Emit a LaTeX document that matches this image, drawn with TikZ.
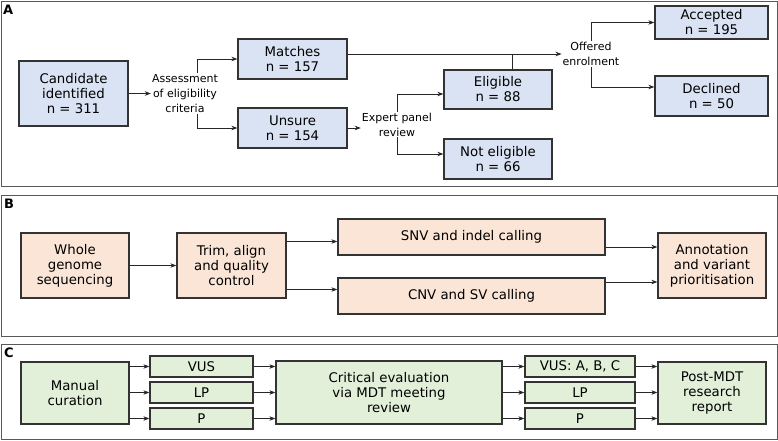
\documentclass[tikz,border=0pt]{standalone}
\usepackage{fontspec}
\setmainfont{DejaVu Sans}
\usetikzlibrary{arrows.meta}
\definecolor{fillA}{RGB}{218,227,243}
\definecolor{fillB}{RGB}{251,229,214}
\definecolor{fillC}{RGB}{226,240,217}

\begin{document}
\begin{tikzpicture}[x=1pt, y=-1pt,
	box/.style={rectangle, draw=black!80, line width=1.3pt, align=center, inner sep=0pt, font=\fontsize{13.3}{15}\selectfont},
	boxA/.style={box, fill=fillA},
	boxB/.style={box, fill=fillB},
	boxC/.style={box, fill=fillC},
	note/.style={rectangle, align=center, inner sep=1pt, font=\fontsize{11}{15}\selectfont},
	panel/.style={draw=black!65, line width=1pt},
	letter/.style={anchor=base west, inner sep=0pt, font=\fontsize{13}{13}\selectfont\bfseries},
	arr/.style={draw=black!85, line width=0.8pt, -{Stealth[length=6pt,width=4.5pt]}},
	link/.style={draw=black!85, line width=0.8pt}]
	\useasboundingbox (0,0) rectangle (778,440);
	% Panels
	\draw [panel] (1,1) rectangle (777,186.5);
	\draw [panel] (1,195) rectangle (777,336);
	\draw [panel] (1,344) rectangle (777,439);
	\node [letter] (labA) at (3,14) {A};
	\node [letter] (labB) at (4,208.5) {B};
	\node [letter] (labC) at (4,357.5) {C};

	% Place nodes (A)
	\node [boxA,minimum width=109pt,minimum height=65pt] (cand) at (73.5,93.5) {Candidate\\identified\\n = 311};
	\node [note] (assess) at (185,93.5) {Assessment\\of eligibility\\criteria};
	\node [boxA,minimum width=109pt,minimum height=40pt] (match) at (292.5,59) {Matches\\n = 157};
	\node [boxA,minimum width=109pt,minimum height=40pt] (unsure) at (292.5,128) {Unsure\\n = 154};
	\node [note] (expert) at (397,124.5) {Expert panel\\review};
	\node [boxA,minimum width=108pt,minimum height=39pt] (elig) at (498,89.5) {Eligible\\n = 88};
	\node [boxA,minimum width=108pt,minimum height=40pt] (notelig) at (498,159) {Not eligible\\n = 66};
	\node [note] (offered) at (591,54) {Offered\\enrolment};
	\node [boxA,minimum width=113pt,minimum height=33pt] (accept) at (711.5,22.5) {Accepted\\n = 195};
	\node [boxA,minimum width=113pt,minimum height=40pt] (decline) at (711.5,96) {Declined\\n = 50};

	\draw [arr] (cand.east) -- (assess.west);
	\draw [arr] ([xshift=12pt]assess.north) |- (match.west);
	\draw [arr] ([xshift=12pt]assess.south) |- (unsure.west);
	\draw [arr] (unsure.east) -- (unsure.east -| expert.west);
	\draw [arr] (expert.north) |- ([yshift=-4.5pt]elig.west);
	\draw [arr] (expert.south) |- ([yshift=5pt]notelig.west);
	\draw [arr] (match.east |- offered.west) -- (offered.west);
	\draw [link] ([xshift=14pt]elig.north) -- ([xshift=14pt]elig.north |- offered.west);
	\draw [arr] (offered.north) |- (accept.west);
	\draw [arr] (offered.south) |- ([yshift=9pt]decline.west);

	% Place nodes (B)
	\node [boxB,minimum width=108pt,minimum height=65pt] (wgs) at (75,265.5) {Whole\\genome\\sequencing};
	\node [boxB,minimum width=109pt,minimum height=65pt] (trim) at (231.5,265.5) {Trim, align\\and quality\\control};
	\node [boxB,minimum width=267pt,minimum height=36pt] (snv) at (471.5,237) {SNV and indel calling};
	\node [boxB,minimum width=267pt,minimum height=36pt] (cnv) at (471.5,296) {CNV and SV calling};
	\node [boxB,minimum width=108pt,minimum height=65pt] (annot) at (712,265.5) {Annotation\\and variant\\prioritisation};

	\draw [arr] (wgs.east) -- (trim.west);
	\draw [arr] ([yshift=24pt]trim.east) -- ([yshift=24pt]trim.east -| snv.west);
	\draw [arr] ([yshift=-24pt]trim.east) -- ([yshift=-24pt]trim.east -| cnv.west);
	\draw [arr] ([yshift=-10pt]snv.east) -- ([yshift=-10pt]snv.east -| annot.west);
	\draw [arr] ([yshift=14pt]cnv.east) -- ([yshift=14pt]cnv.east -| annot.west);

	% Place nodes (C)
	\node [boxC,minimum width=108pt,minimum height=62pt] (manual) at (75,393) {Manual\\curation};
	\node [boxC,minimum width=103pt,minimum height=21pt] (vus1) at (201.5,366.5) {VUS};
	\node [boxC,below of=vus1,node distance=26pt,minimum width=103pt,minimum height=21pt] (lp1) {LP};
	\node [boxC,below of=lp1,node distance=26pt,minimum width=103pt,minimum height=21pt] (p1) {P};
	\node [boxC,minimum width=226pt,minimum height=63pt] (crit) at (389,392.5) {Critical evaluation\\via MDT meeting\\review};
	\node [boxC,minimum width=110pt,minimum height=21pt] (vus2) at (580,366.5) {VUS: A, B, C};
	\node [boxC,below of=vus2,node distance=26pt,minimum width=110pt,minimum height=21pt] (lp2) {LP};
	\node [boxC,below of=lp2,node distance=26pt,minimum width=110pt,minimum height=21pt] (p2) {P};
	\node [boxC,minimum width=108pt,minimum height=62pt] (post) at (712,393) {Post-MDT\\research\\report};

	\draw [arr] (manual.east |- vus1.west) -- (vus1.west);
	\draw [arr] (manual.east |- lp1.west) -- (lp1.west);
	\draw [arr] (manual.east |- p1.west) -- (p1.west);
	\draw [arr] (vus1.east) -- (vus1.east -| crit.west);
	\draw [arr] (lp1.east) -- (lp1.east -| crit.west);
	\draw [arr] (p1.east) -- (p1.east -| crit.west);
	\draw [arr] (crit.east |- vus2.west) -- (vus2.west);
	\draw [arr] (crit.east |- lp2.west) -- (lp2.west);
	\draw [arr] (crit.east |- p2.west) -- (p2.west);
	\draw [arr] (vus2.east) -- (vus2.east -| post.west);
	\draw [arr] (lp2.east) -- (lp2.east -| post.west);
	\draw [arr] (p2.east) -- (p2.east -| post.west);
\end{tikzpicture}
\end{document}
